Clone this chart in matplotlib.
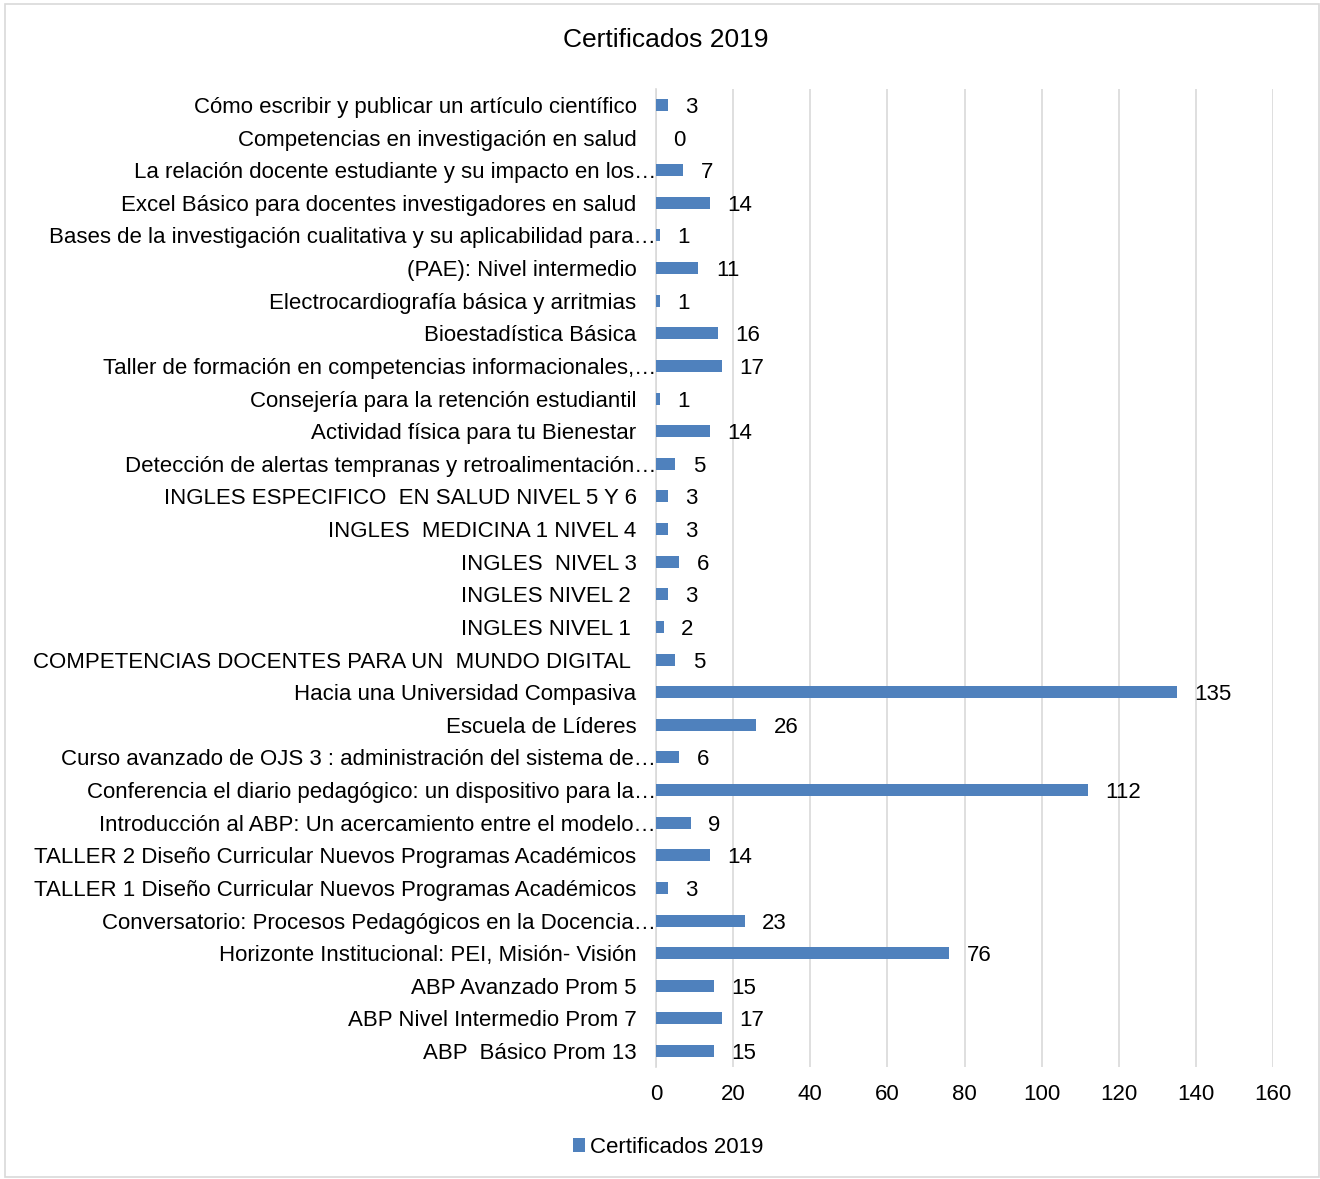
import matplotlib.pyplot as plt
from matplotlib.patches import Rectangle

plt.rcParams['font.family'] = ['Liberation Sans', 'DejaVu Sans']

# categories top to bottom, as in the chart
cursos = [
    'Cómo escribir y publicar un artículo científico',
    'Competencias en investigación en salud',
    'La relación docente estudiante y su impacto en los…',
    'Excel Básico para docentes investigadores en salud',
    'Bases de la investigación cualitativa y su aplicabilidad para…',
    '(PAE): Nivel intermedio',
    'Electrocardiografía básica y arritmias',
    'Bioestadística Básica',
    'Taller de formación en competencias informacionales,…',
    'Consejería para la retención estudiantil',
    'Actividad física para tu Bienestar',
    'Detección de alertas tempranas y retroalimentación…',
    'INGLES ESPECIFICO  EN SALUD NIVEL 5 Y 6',
    'INGLES  MEDICINA 1 NIVEL 4',
    'INGLES  NIVEL 3',
    'INGLES NIVEL 2 ',
    'INGLES NIVEL 1 ',
    'COMPETENCIAS DOCENTES PARA UN  MUNDO DIGITAL ',
    'Hacia una Universidad Compasiva',
    'Escuela de Líderes',
    'Curso avanzado de OJS 3 : administración del sistema de…',
    'Conferencia el diario pedagógico: un dispositivo para la…',
    'Introducción al ABP: Un acercamiento entre el modelo…',
    'TALLER 2 Diseño Curricular Nuevos Programas Académicos',
    'TALLER 1 Diseño Curricular Nuevos Programas Académicos',
    'Conversatorio: Procesos Pedagógicos en la Docencia…',
    'Horizonte Institucional: PEI, Misión- Visión',
    'ABP Avanzado Prom 5',
    'ABP Nivel Intermedio Prom 7',
    'ABP  Básico Prom 13',
]
certificados = [3, 0, 7, 14, 1, 11, 1, 16, 17, 1, 14, 5, 3, 3, 6, 3, 2, 5,
                135, 26, 6, 112, 9, 14, 3, 23, 76, 15, 17, 15]
x_ticks = [0, 20, 40, 60, 80, 100, 120, 140, 160]

bar_color = '#4F81BD'
grid_color = '#D9D9D9'
fs = 16

fig = plt.figure(figsize=(13.2, 11.79), dpi=100)
ax = fig.add_axes([0.497, 0.0947, 0.4675, 0.8301])

pos = list(range(len(cursos)))
bars = ax.barh(pos, certificados, height=0.37, color=bar_color, zorder=3,
               label='Certificados 2019')

for b, v in zip(bars, certificados):
    ax.annotate(str(v), (b.get_width(), b.get_y() + b.get_height() / 2),
                xytext=(12.5, 0), textcoords='offset points',
                ha='left', va='center_baseline', fontsize=fs, color='black')

ax.set_xlim(0, 160)
ax.set_ylim(len(cursos) - 0.5, -0.5)
ax.set_xticks(x_ticks)
ax.set_yticks(pos)
ax.set_yticklabels(cursos, fontsize=fs)
ax.tick_params(axis='x', labelsize=fs, length=0, pad=12)
ax.tick_params(axis='y', length=0, pad=14)

# labels cut off with an ellipsis sit right against the axis
for t, lab in zip(ax.yaxis.get_major_ticks(), cursos):
    if lab.endswith('…'):
        t.set_pad(0)

ax.grid(axis='x', color=grid_color, linewidth=1.2, zorder=0)
for s in ['top', 'right', 'bottom']:
    ax.spines[s].set_visible(False)
ax.spines['left'].set_color(grid_color)
ax.spines['left'].set_linewidth(1.2)

fig.text(0.504, 0.966, 'Certificados 2019', ha='center', va='center', fontsize=19)

fig.legend(handles=[bars], labels=['Certificados 2019'], loc='center',
           bbox_to_anchor=(0.506, 0.027), frameon=False, fontsize=fs,
           handlelength=0.55, handleheight=0.55, handletextpad=0.2)

fig.patches.append(Rectangle((0.004, 0.002), 0.995, 0.995, transform=fig.transFigure,
                             fill=False, edgecolor=grid_color, linewidth=1.2))

fig.savefig('out.png', dpi=100)
